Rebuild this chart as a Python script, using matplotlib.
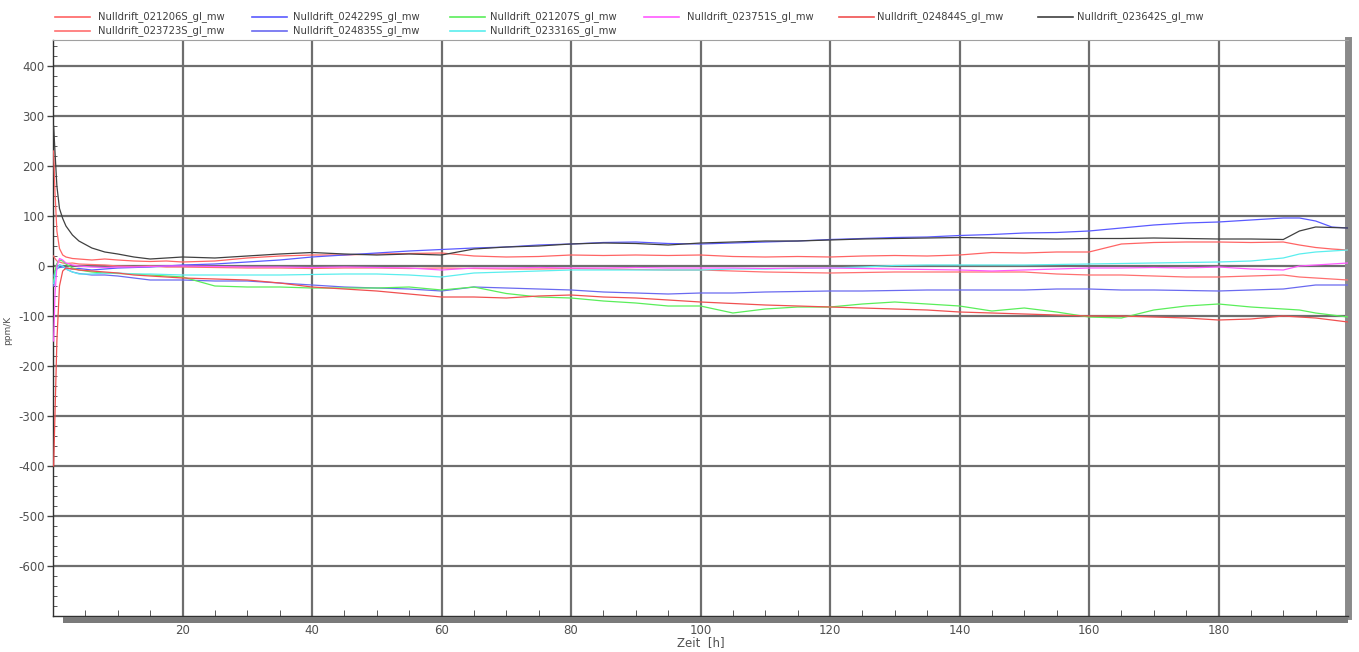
import matplotlib
matplotlib.use('Agg')
import matplotlib.pyplot as plt
from matplotlib.lines import Line2D
from matplotlib.patches import Rectangle
from matplotlib.ticker import MultipleLocator, FixedLocator
import numpy as np

plt.rcParams['axes.unicode_minus'] = False

# time axis [h]
hours = [0.1, 0.3, 0.6, 1, 1.5, 2, 3, 4, 6, 8, 10, 12.5, 15, 17.5, 20,
         25, 30, 35, 40, 45, 50, 55, 60, 65, 70, 75, 80, 85, 90, 95, 100,
         105, 110, 115, 120, 125, 130, 135, 140, 145, 150, 155, 160, 165,
         170, 175, 180, 185, 190, 192.5, 195, 197.5, 200]

# drift values [ppm]
d_021206S = [230, 150, 70, 35, 22, 18, 15, 14, 12, 14, 12, 10, 9, 10, 8,
             10, 16, 20, 22, 22, 24, 25, 26, 20, 18, 19, 22, 21, 22, 21, 22,
             19, 18, 19, 18, 20, 21, 20, 22, 27, 26, 28, 28, 44,
             47, 48, 48, 47, 48, 42, 37, 34, 32]
d_023723S = [20, 15, 10, 8, 6, 5, 6, 4, 3, 2, 0, -1, 0, -2, -2,
             -3, -4, -4, -5, -4, -4, -5, -4, -5, -6, -6, -5, -6, -7, -8, -8,
             -10, -12, -13, -14, -13, -12, -12, -12, -12, -12, -16, -18, -18,
             -20, -22, -22, -20, -18, -22, -24, -26, -28]
d_024229S = [-20, -10, -5, -3, -2, -4, -6, -5, -8, -6, -4, -3, -2, 0, 2,
             4, 8, 12, 18, 22, 26, 30, 33, 36, 38, 42, 44, 47, 48, 45, 44,
             46, 48, 50, 53, 55, 57, 58, 61, 63, 66, 67, 70, 76,
             82, 86, 88, 92, 96, 96, 90, 78, 76]
d_024835S = [-40, -20, -5, 2, 0, -6, -12, -15, -18, -18, -20, -24, -28, -28, -28,
             -30, -30, -34, -38, -42, -44, -46, -50, -42, -44, -46, -48, -52, -54, -56, -54,
             -54, -52, -51, -50, -50, -49, -48, -48, -48, -48, -46, -46, -48,
             -48, -49, -50, -48, -46, -42, -38, -38, -38]
d_021207S = [-30, -10, 5, 12, 10, 4, -4, -8, -12, -14, -15, -16, -18, -20, -22,
             -40, -42, -42, -44, -44, -44, -42, -48, -42, -55, -62, -64, -70, -74, -80, -80,
             -94, -86, -82, -82, -76, -72, -76, -80, -90, -84, -92, -102, -104,
             -88, -80, -76, -82, -86, -88, -94, -98, -102]
d_023316S = [-35, -20, -5, 2, 0, -6, -12, -16, -16, -14, -14, -16, -16, -17, -18,
             -18, -18, -18, -17, -16, -16, -18, -22, -14, -12, -10, -8, -8, -8, -8, -8,
             -6, -6, -5, -4, -2, 1, 2, 2, 2, 2, 3, 4, 5,
             6, 7, 8, 10, 16, 24, 28, 30, 32]
d_023751S = [-150, -60, 0, 15, 12, 6, 2, 0, -2, -3, -2, -2, -1, 0, 0,
             -1, -2, -2, -3, -2, -3, -4, -8, -4, -4, -3, -4, -4, -3, -4, -4,
             -4, -5, -4, -4, -5, -6, -7, -8, -10, -8, -6, -4, -4,
             -3, -4, -2, -6, -8, 0, 2, 4, 6]
d_024844S = [-400, -300, -150, -40, -10, -4, -6, -8, -10, -12, -14, -18, -20, -22, -24,
             -26, -28, -34, -42, -46, -50, -56, -62, -62, -64, -60, -58, -62, -64, -68, -72,
             -75, -78, -80, -82, -84, -86, -88, -92, -94, -96, -98, -100, -100,
             -102, -104, -108, -106, -100, -102, -104, -108, -112]
d_023642S = [280, 230, 160, 115, 95, 80, 62, 50, 36, 28, 24, 18, 14, 16, 18,
             16, 20, 24, 27, 24, 22, 24, 22, 34, 38, 40, 44, 46, 45, 42, 46,
             48, 50, 50, 52, 54, 55, 56, 57, 56, 55, 54, 55, 55,
             56, 55, 54, 54, 53, 70, 78, 77, 76]

# legend order as in the reference (column-wise)
series = [
    ('Nulldrift_021206S_gl_mw', d_021206S, '#ff6464'),
    ('Nulldrift_023723S_gl_mw', d_023723S, '#ff7070'),
    ('Nulldrift_024229S_gl_mw', d_024229S, '#5a5aff'),
    ('Nulldrift_024835S_gl_mw', d_024835S, '#6a6af0'),
    ('Nulldrift_021207S_gl_mw', d_021207S, '#5aee5a'),
    ('Nulldrift_023316S_gl_mw', d_023316S, '#5aeeee'),
    ('Nulldrift_023751S_gl_mw', d_023751S, '#ff5aff'),
    ('Nulldrift_024844S_gl_mw', d_024844S, '#f05050'),
    ('Nulldrift_023642S_gl_mw', d_023642S, '#404040'),
]

W, H = 1359, 652
fig = plt.figure(figsize=(W / 100, H / 100), dpi=100)
ax = fig.add_axes([53 / W, 1 - 616 / H, (1348 - 53) / W, (616 - 40) / H])

for name, vals, col in series:
    ax.plot(hours, vals, color=col, lw=0.9, zorder=3)

ax.set_xlim(0, 200)
ax.set_ylim(-700, 452)

ax.xaxis.set_major_locator(FixedLocator(np.arange(20, 181, 20)))
ax.xaxis.set_minor_locator(MultipleLocator(5))
ax.yaxis.set_major_locator(FixedLocator(np.arange(-600, 401, 100)))
ax.yaxis.set_minor_locator(MultipleLocator(20))
ax.grid(True, which='major', color='#6e6e6e', lw=1.6, zorder=1)

ax.tick_params(axis='x', which='major', length=0, pad=6, labelsize=8.5, labelcolor='#505050')
ax.tick_params(axis='x', which='minor', direction='in', length=4, color='#404040')
ax.tick_params(axis='y', which='major', direction='out', length=4, width=1, color='#404040',
               pad=2, labelsize=8.5, labelcolor='#505050')
ax.tick_params(axis='y', which='minor', direction='in', length=3, color='#404040')

ax.spines['top'].set_color('#a0a0a0')
ax.spines['top'].set_linewidth(0.8)
ax.spines['left'].set_color('#303030')
ax.spines['left'].set_linewidth(1.0)
ax.spines['bottom'].set_color('#303030')
ax.spines['bottom'].set_linewidth(1.0)
ax.spines['right'].set_color('#8a8a8a')
ax.spines['right'].set_linewidth(5)

# scroll-bar like band below the x axis
fig.add_artist(Rectangle((63 / W, 1 - 623 / H), (1348 - 63) / W, 6 / H,
                         transform=fig.transFigure, color='#7a7a7a', lw=0))

ax.set_xlabel('Zeit  [h]', fontsize=8.5, color='#505050', labelpad=-1)
fig.text(8 / W, 1 - 330 / H, 'ppm/K', rotation=90, fontsize=6.5, color='#505050',
         ha='center', va='center')

# legend drawn as in the reference: 6 columns, 2 rows
line_x = [55, 252, 450, 644, 839, 1038]
text_x = [98, 293, 490, 687, 877, 1077]
row_y = [17, 31]
for i, (name, vals, col) in enumerate(series):
    c = i // 2 if i < 6 else i - 3
    r = i % 2 if i < 6 else 0
    y = 1 - row_y[r] / H
    fig.add_artist(Line2D([line_x[c] / W, (line_x[c] + 35) / W], [y, y],
                          transform=fig.transFigure, color=col, lw=1.2))
    fig.text(text_x[c] / W, y, name, fontsize=7.2, color='#404040', va='center', ha='left')

fig.savefig('out.png', dpi=100)
